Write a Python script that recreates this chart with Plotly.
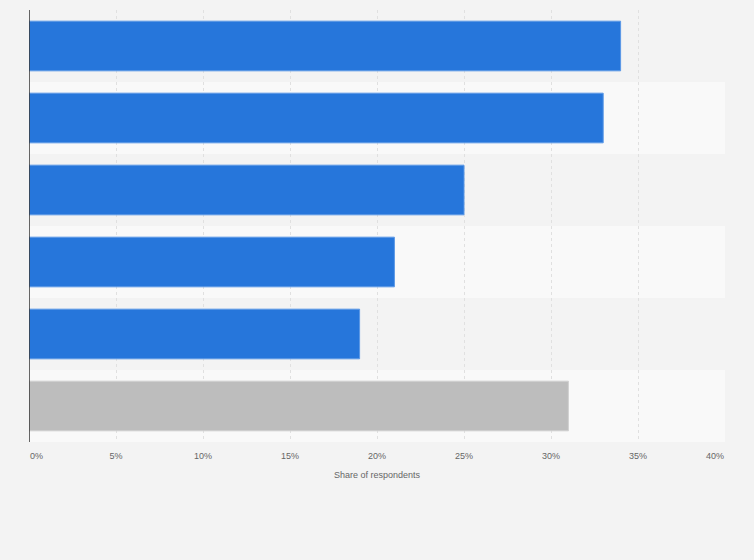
import plotly.graph_objects as go

categories = ["Category 1", "Category 2", "Category 3", "Category 4", "Category 5", "Category 6"]
values = [34, 33, 25, 21, 19, 31]
bar_colors = ["#2676db", "#2676db", "#2676db", "#2676db", "#2676db", "#bdbdbd"]
line_colors = ["#5b98e6", "#5b98e6", "#5b98e6", "#5b98e6", "#5b98e6", "#d0d0d0"]
tick_vals = [0, 5, 10, 15, 20, 25, 30, 35, 40]
tick_text = ["0%", "5%", "10%", "15%", "20%", "25%", "30%", "35%", "40%"]

NB = "\u00a0"
tick_display = list(tick_text)
tick_display[0] = NB * 6 + tick_display[0]
tick_display[-1] = tick_display[-1] + NB * 8

fig = go.Figure()
fig.add_trace(go.Bar(
    y=categories, x=values, orientation="h",
    marker=dict(color=bar_colors, line=dict(color=line_colors, width=1)),
    width=0.69, hoverinfo="x+y",
))

shapes = []
for i, c in enumerate(categories):
    if i % 2 == 1:
        shapes.append(dict(type="rect", xref="paper", yref="y", x0=0, x1=1,
                           y0=i - 0.5, y1=i + 0.5, fillcolor="#f9f9f9",
                           line=dict(width=0), layer="below"))

fig.update_layout(
    width=754, height=560,
    paper_bgcolor="#f3f3f3", plot_bgcolor="#f3f3f3",
    margin=dict(l=29, r=29, t=10, b=118),
    showlegend=False,
    shapes=shapes,
    font=dict(family="Liberation Sans, Arial, sans-serif", size=9, color="#666666"),
    xaxis=dict(range=[0, 40], tickvals=tick_vals, ticktext=tick_display,
               showgrid=True, gridcolor="#e0e0e0", griddash="dot", gridwidth=1,
               zeroline=False, showline=False,
               ticks="outside", ticklen=5, tickcolor="rgba(0,0,0,0)",
               tickfont=dict(size=9, color="#666666"),
               title=dict(text="Share of respondents", font=dict(size=9, color="#666666"), standoff=11),
               fixedrange=True),
    yaxis=dict(autorange="reversed", showticklabels=False, showgrid=False,
               zeroline=False, showline=False, ticks="", fixedrange=True),
)
fig.add_shape(type="line", xref="x", yref="paper", x0=0, x1=0, y0=0, y1=1,
              line=dict(color="#333333", width=1.5))

fig.write_html("out.html", config={"displayModeBar": False},
               post_script="document.body.style.margin='0';document.body.style.background='#f3f3f3';")
